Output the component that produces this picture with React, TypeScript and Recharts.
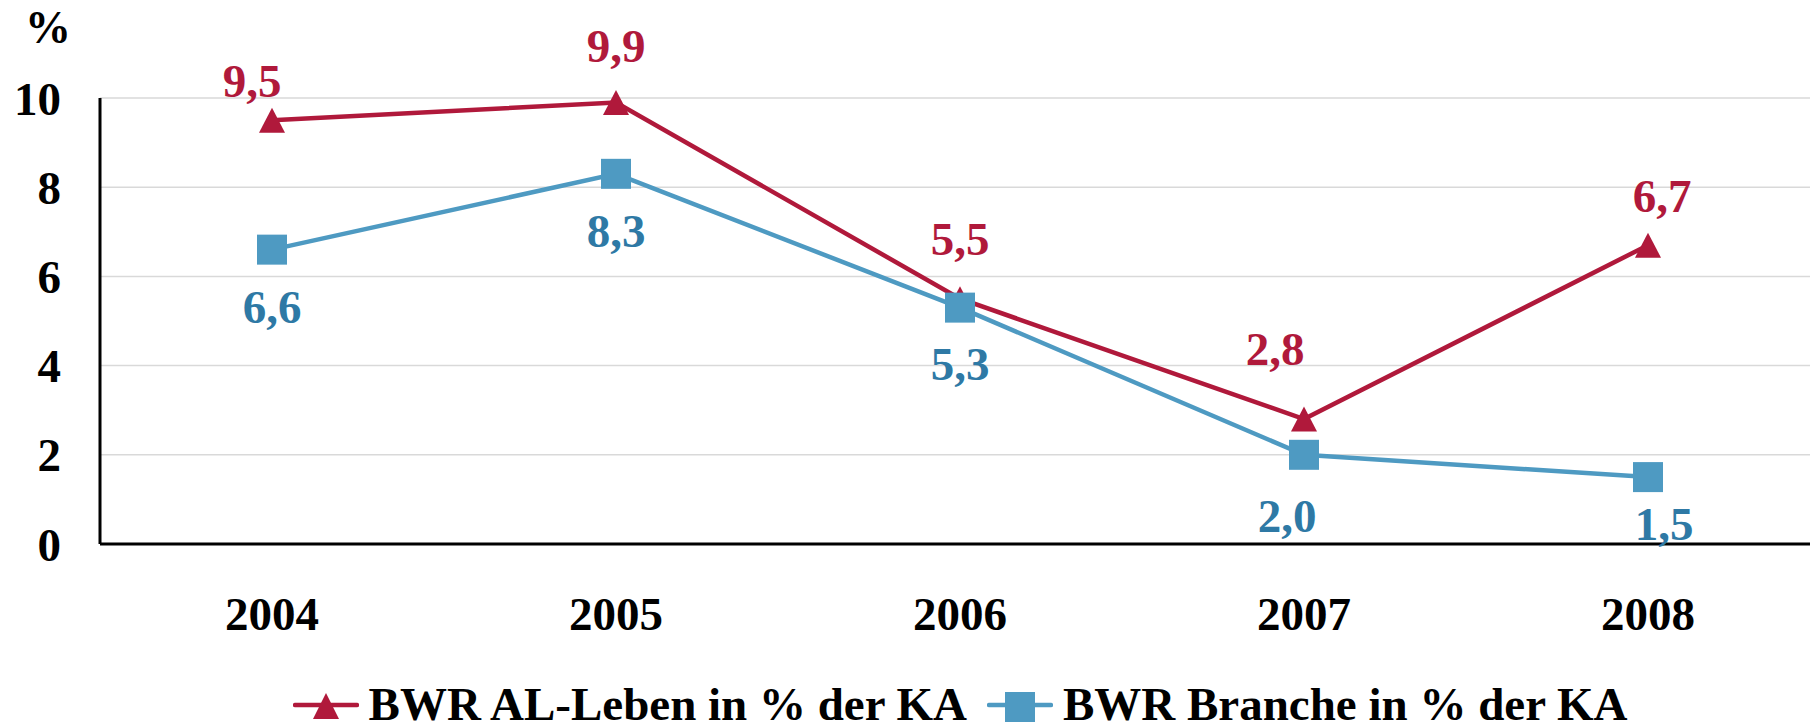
import React from 'react'
import { LineChart, Line, XAxis, YAxis, CartesianGrid, LabelList } from 'recharts'

// values
const years = ['2004', '2005', '2006', '2007', '2008']
const alLeben = [9.5, 9.9, 5.5, 2.8, 6.7]
const branche = [6.6, 8.3, 5.3, 2.0, 1.5]
const yTicks = [0, 2, 4, 6, 8, 10]

const seriesNames = ['BWR AL-Leben in % der KA', 'BWR Branche in % der KA']

const data = years.map((year, i) => ({ year, alLeben: alLeben[i], branche: branche[i] }))

const RED = '#B0193B'
const BLUE = '#4E9AC2'
const BLUE_TEXT = '#2E79A5'
const FONT = '"Liberation Serif", "Times New Roman", serif'
const FS = 47

// label nudges relative to each point (Excel labels were dragged by hand)
const redDx = [-20, 0, 0, -29, 14]
const redDy = [-23, -40, -44, -54, -33]
const blueDx = [0, 0, 0, -17, 16]
const blueDy = [73, 73, 72, 77, 63]

const fmt = (v: number) => v.toFixed(1).replace('.', ',')

function TriangleDot(props: any) {
  const { cx, cy } = props
  if (cx == null || cy == null) return null
  const w = 26
  const h = 25
  return (
    <polygon
      points={`${cx},${cy - h / 2} ${cx + w / 2},${cy + h / 2} ${cx - w / 2},${cy + h / 2}`}
      fill={RED}
    />
  )
}

function SquareDot(props: any) {
  const { cx, cy } = props
  if (cx == null || cy == null) return null
  return <rect x={cx - 15} y={cy - 15} width={30} height={30} fill={BLUE} />
}

function makeLabel(color: string, dx: number[], dy: number[]) {
  return (props: any) => {
    const { x, y, value, index } = props
    return (
      <text
        x={x + dx[index]}
        y={y + dy[index]}
        textAnchor="middle"
        fill={color}
        fontFamily={FONT}
        fontWeight="bold"
        fontSize={FS}
      >
        {fmt(value)}
      </text>
    )
  }
}

function LegendItem({ kind, label }: { kind: 'tri' | 'sq'; label: string }) {
  return (
    <div style={{ display: 'flex', alignItems: 'flex-start' }}>
      <svg width={66} height={38} style={{ display: 'block' }}>
        <line x1={2} y1={20} x2={64} y2={20} stroke={kind === 'tri' ? RED : BLUE} strokeWidth={4.5} strokeLinecap="round" />
        {kind === 'tri' ? (
          <polygon points="33,8 46,34 20,34" fill={RED} />
        ) : (
          <rect x={18} y={7} width={30} height={30} fill={BLUE} />
        )}
      </svg>
      <span style={{ marginLeft: 10, lineHeight: '38px', height: 38 }}>{label}</span>
    </div>
  )
}

export default function App() {
  return (
    <div
      style={{
        position: 'absolute',
        left: 0,
        top: 0,
        width: 1810,
        height: 724,
        overflow: 'hidden',
        background: '#fff',
        fontFamily: FONT,
        fontWeight: 'bold',
        fontSize: FS,
      }}
    >
      <div style={{ position: 'absolute', left: 18, top: 5, width: 60, textAlign: 'center', fontSize: 46, lineHeight: '46px' }}>
        %
      </div>
      <LineChart width={1820} height={724} data={data} margin={{ top: 98, right: 0, left: 0, bottom: 0 }}>
        <CartesianGrid vertical={false} stroke="#D9D9D9" strokeWidth={1.5} />
        <XAxis
          dataKey="year"
          height={180}
          padding={{ left: 172, right: 172 }}
          tickLine={false}
          tickSize={0}
          tickMargin={53}
          axisLine={{ stroke: '#000', strokeWidth: 3 }}
          tick={{ fill: '#000', fontFamily: FONT, fontWeight: 'bold', fontSize: FS }}
        />
        <YAxis
          width={100}
          domain={[0, 10]}
          ticks={yTicks}
          tickLine={false}
          tickSize={0}
          tickMargin={39}
          axisLine={{ stroke: '#000', strokeWidth: 3 }}
          tick={{ fill: '#000', fontFamily: FONT, fontWeight: 'bold', fontSize: FS }}
        />
        <Line
          dataKey="alLeben"
          name={seriesNames[0]}
          stroke={RED}
          strokeWidth={4.5}
          dot={<TriangleDot />}
          activeDot={false}
          isAnimationActive={false}
        >
          <LabelList dataKey="alLeben" content={makeLabel(RED, redDx, redDy)} />
        </Line>
        <Line
          dataKey="branche"
          name={seriesNames[1]}
          stroke={BLUE}
          strokeWidth={4.5}
          dot={<SquareDot />}
          activeDot={false}
          isAnimationActive={false}
        >
          <LabelList dataKey="branche" content={makeLabel(BLUE_TEXT, blueDx, blueDy)} />
        </Line>
      </LineChart>
      <div
        style={{
          position: 'absolute',
          left: 100,
          width: 1720,
          top: 685,
          display: 'flex',
          justifyContent: 'center',
          gap: 20,
          color: '#000',
        }}
      >
        <LegendItem kind="tri" label={seriesNames[0]} />
        <LegendItem kind="sq" label={seriesNames[1]} />
      </div>
    </div>
  )
}
